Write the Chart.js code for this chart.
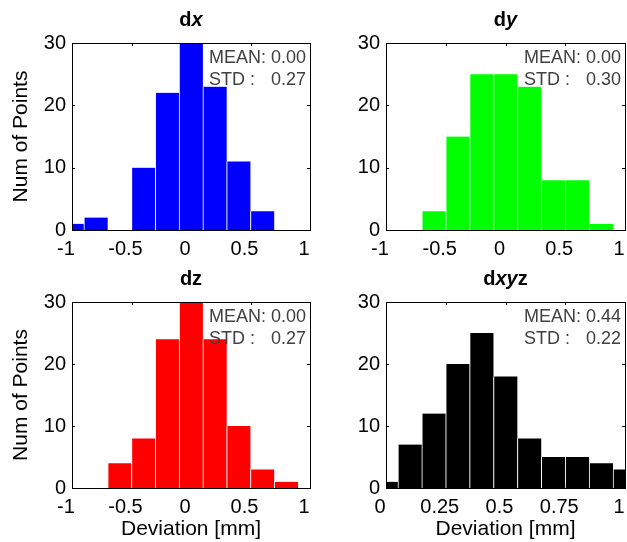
<!DOCTYPE html>
<html>
<head>
<meta charset="utf-8">
<style>
html,body{margin:0;padding:0;background:#fff;}
#wrap{position:relative;width:627px;height:542px;overflow:hidden;background:#fff;}
#wrap canvas{position:absolute;left:0;top:0;}
</style>
<script src="https://cdn.jsdelivr.net/npm/chart.js@4/dist/chart.umd.min.js"></script>
</head>
<body>
<div id="wrap">
<canvas id="c0" width="627" height="542"></canvas>
<canvas id="c1" width="627" height="542"></canvas>
<canvas id="c2" width="627" height="542"></canvas>
<canvas id="c3" width="627" height="542"></canvas>
</div>
<script>
// ---- data ----
const dxCenters = [-1.0, -0.8, -0.6, -0.4, -0.2, 0.0, 0.2, 0.4, 0.6];
const dxCounts  = [1, 2, 0, 10, 22, 30, 23, 11, 3];
const dyCenters = [-0.6, -0.4, -0.2, 0.0, 0.2, 0.4, 0.6, 0.8];
const dyCounts  = [3, 15, 25, 25, 23, 8, 8, 1];
const dzCenters = [-0.6, -0.4, -0.2, 0.0, 0.2, 0.4, 0.6, 0.8];
const dzCounts  = [4, 8, 24, 30, 24, 10, 3, 1];
const dxyzCenters = [0.0, 0.1, 0.2, 0.3, 0.4, 0.5, 0.6, 0.7, 0.8, 0.9, 1.0];
const dxyzCounts  = [1, 7, 12, 20, 25, 18, 8, 5, 5, 4, 3];

const xTicksSigned = [-1, -0.5, 0, 0.5, 1];
const xTicksAbs    = [0, 0.25, 0.5, 0.75, 1];
const yTicks       = [0, 10, 20, 30];

const panelTitles = [
  [['d', false], ['x', true]],
  [['d', false], ['y', true]],
  [['dz', false]],
  [['d', false], ['xy', true], ['z', false]]
];
const meanLabels = ['0.00', '0.00', '0.00', '0.44'];
const stdLabels  = ['0.27', '0.30', '0.27', '0.22'];
const yTitle = 'Num of Points';
const xTitle = 'Deviation [mm]';

// ---- rendering ----
const FONT = '"Liberation Sans", Arial, Helvetica, sans-serif';
Chart.defaults.font.family = FONT;
Chart.defaults.color = '#000';

const panelPlugin = {
  id: 'panel',
  beforeDatasetsDraw(chart, args, opts) {
    const ctx = chart.ctx, ca = chart.chartArea;
    const xs = chart.scales.x, ys = chart.scales.y;
    ctx.save();
    ctx.strokeStyle = '#000';
    ctx.lineWidth = 1;
    ctx.beginPath();
    xs.ticks.forEach(t => {
      const p = Math.round(xs.getPixelForValue(t.value)) + 0.5;
      if (p <= ca.left + 1 || p >= ca.right - 1) return;
      ctx.moveTo(p, ca.bottom); ctx.lineTo(p, ca.bottom - 3);
      ctx.moveTo(p, ca.top); ctx.lineTo(p, ca.top + 3);
    });
    ys.ticks.forEach(t => {
      const p = Math.round(ys.getPixelForValue(t.value)) + 0.5;
      if (p <= ca.top + 1 || p >= ca.bottom - 1) return;
      ctx.moveTo(ca.left, p); ctx.lineTo(ca.left + 3, p);
      ctx.moveTo(ca.right, p); ctx.lineTo(ca.right - 3, p);
    });
    ctx.stroke();
    ctx.restore();
  },
  afterDraw(chart, args, opts) {
    const ctx = chart.ctx, ca = chart.chartArea;
    ctx.save();
    // frame
    ctx.strokeStyle = '#000';
    ctx.lineWidth = 1;
    ctx.strokeRect(ca.left + 0.5, ca.top + 0.5, ca.right - ca.left, ca.bottom - ca.top);
    // title with mixed italic
    const segs = opts.title || [];
    const fontFor = it => (it ? 'italic ' : '') + 'bold 20px ' + FONT;
    let total = 0;
    segs.forEach(s => { ctx.font = fontFor(s[1]); total += ctx.measureText(s[0]).width; });
    let x = (ca.left + ca.right) / 2 - total / 2;
    ctx.fillStyle = '#000';
    ctx.textBaseline = 'alphabetic';
    ctx.textAlign = 'left';
    segs.forEach(s => { ctx.font = fontFor(s[1]); ctx.fillText(s[0], x, ca.top - 17); x += ctx.measureText(s[0]).width; });
    // stats
    ctx.font = '18px ' + FONT;
    ctx.fillStyle = '#404040';
    const r = ca.right - 4;
    const meanTxt = 'MEAN: ' + opts.mean;
    const w = ctx.measureText(meanTxt).width;
    ctx.textAlign = 'right';
    ctx.fillText(meanTxt, r, ca.top + 20);
    ctx.fillText(opts.std, r, ca.top + 42);
    ctx.textAlign = 'left';
    ctx.fillText('STD :', r - w, ca.top + 42);
    ctx.restore();
  }
};

function makeChart(id, centers, counts, color, cfg) {
  return new Chart(document.getElementById(id), {
    type: 'bar',
    data: {
      datasets: [{
        data: centers.map((c, i) => ({ x: c, y: counts[i] })),
        backgroundColor: color,
        borderColor: 'rgba(255,255,255,0.9)',
        borderWidth: { left: 1, right: 0, top: 0, bottom: 0 },
        borderSkipped: false,
        barPercentage: 1,
        categoryPercentage: 1,
        clip: 0
      }]
    },
    options: {
      responsive: false,
      animation: false,
      devicePixelRatio: 1,
      events: [],
      layout: { padding: cfg.pad },
      plugins: {
        legend: { display: false },
        tooltip: { enabled: false },
        panel: { title: cfg.title, mean: cfg.mean, std: cfg.std }
      },
      scales: {
        x: {
          type: 'linear',
          offset: false,
          min: cfg.xMin,
          max: cfg.xMax,
          grid: { display: false, drawTicks: false },
          border: { display: false },
          afterBuildTicks: s => { s.ticks = cfg.xTicks.map(v => ({ value: v })); },
          afterFit: s => { s.height = 54; s.paddingLeft = 0; s.paddingRight = 0; },
          ticks: {
            autoSkip: false, maxRotation: 0, padding: 7, labelOffset: -6,
            font: { size: 20 }, color: '#000',
            callback: v => String(v)
          },
          title: {
            display: cfg.showX, text: xTitle, color: '#000',
            font: { size: 21 }, padding: { top: 0, bottom: 0 }
          }
        },
        y: {
          type: 'linear',
          min: 0,
          max: 30,
          grid: { display: false, drawTicks: false },
          border: { display: false },
          afterBuildTicks: s => { s.ticks = yTicks.map(v => ({ value: v })); },
          afterFit: s => { s.width = 72; s.paddingTop = 0; s.paddingBottom = 0; },
          ticks: {
            autoSkip: false, padding: 6, font: { size: 20 }, color: '#000',
            callback: v => String(v)
          },
          title: {
            display: cfg.showY, text: yTitle, color: '#000',
            font: { size: 21 }, padding: { top: 9, bottom: 0 }
          }
        }
      }
    },
    plugins: [panelPlugin]
  });
}

makeChart('c0', dxCenters, dxCounts, '#0000ff', {
  pad: { left: 0, top: 43, right: 317, bottom: 258 },
  xMin: -1, xMax: 1, xTicks: xTicksSigned, showX: false, showY: true,
  title: panelTitles[0], mean: meanLabels[0], std: stdLabels[0]
});
makeChart('c1', dyCenters, dyCounts, '#00ff00', {
  pad: { left: 314, top: 43, right: 2, bottom: 258 },
  xMin: -1, xMax: 1, xTicks: xTicksSigned, showX: false, showY: false,
  title: panelTitles[1], mean: meanLabels[1], std: stdLabels[1]
});
makeChart('c2', dzCenters, dzCounts, '#ff0000', {
  pad: { left: 0, top: 302, right: 317, bottom: 0 },
  xMin: -1, xMax: 1, xTicks: xTicksSigned, showX: true, showY: true,
  title: panelTitles[2], mean: meanLabels[2], std: stdLabels[2]
});
makeChart('c3', dxyzCenters, dxyzCounts, '#000000', {
  pad: { left: 314, top: 302, right: 2, bottom: 0 },
  xMin: 0, xMax: 1, xTicks: xTicksAbs, showX: true, showY: false,
  title: panelTitles[3], mean: meanLabels[3], std: stdLabels[3]
});
</script>
</body>
</html>
